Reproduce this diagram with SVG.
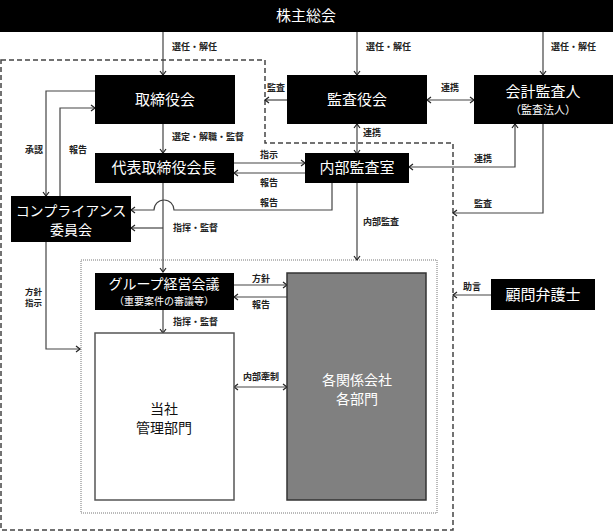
<svg xmlns="http://www.w3.org/2000/svg" width="613" height="531" viewBox="0 0 613 531">
<style>
.box{fill:#000}
.bt{fill:#fff;font-family:"Noto Sans CJK JP","Noto Sans",sans-serif;font-size:15px;text-anchor:middle}
.bm{fill:#fff;font-family:"Noto Sans CJK JP","Noto Sans",sans-serif;font-size:14px;text-anchor:middle}
.bs{fill:#fff;font-family:"Noto Sans CJK JP","Noto Sans",sans-serif;font-size:11px;text-anchor:middle}
.lb{fill:#222;font-family:"Noto Sans CJK JP","Noto Sans",sans-serif;font-size:9px;font-weight:bold}
.ln{fill:none;stroke:#444;stroke-width:1.2}
</style>
<defs>
<marker id="ah" viewBox="0 0 8 8" refX="7" refY="4" markerWidth="8" markerHeight="8" markerUnits="userSpaceOnUse" orient="auto-start-reverse">
<path d="M3,1 L7,4 L3,7" fill="none" stroke="#222" stroke-width="1.2"/>
</marker>
</defs>
<rect width="613" height="531" fill="#fff"/>
<!-- boundaries -->
<path d="M1,60 H265 V143 H453 V530 H1 Z" fill="none" stroke="#444" stroke-width="1.5" stroke-dasharray="5,3"/>
<rect x="81" y="260" width="356" height="253" fill="none" stroke="#777" stroke-width="1" stroke-dasharray="1,1"/>

<g id="connectors">
<path class="ln" d="M163,32 V75" marker-end="url(#ah)"/>
<path class="ln" d="M357,32 V75" marker-end="url(#ah)"/>
<path class="ln" d="M543,32 V75" marker-end="url(#ah)"/>
<path class="ln" d="M287,100 H265" marker-end="url(#ah)"/>
<path class="ln" d="M427,100 H474" marker-start="url(#ah)" marker-end="url(#ah)"/>
<path class="ln" d="M357,124 V154" marker-start="url(#ah)" marker-end="url(#ah)"/>
<path class="ln" d="M515,124 V167 H409" marker-start="url(#ah)" marker-end="url(#ah)"/>
<path class="ln" d="M543,124 V213 H453" marker-end="url(#ah)"/>
<path class="ln" d="M163,124 V153" marker-end="url(#ah)"/>
<path class="ln" d="M234,163 H305" marker-end="url(#ah)"/>
<path class="ln" d="M305,173 H234" marker-end="url(#ah)"/>
<path class="ln" d="M332,183 V210 H174 A10,10 0 0 0 154,210 H131" marker-end="url(#ah)"/>
<path class="ln" d="M357,183 V260" marker-end="url(#ah)"/>
<path class="ln" d="M163,183 V272" marker-end="url(#ah)"/>
<path class="ln" d="M163,228 H131" marker-end="url(#ah)"/>
<path class="ln" d="M95,91 H46 V196" marker-end="url(#ah)"/>
<path class="ln" d="M60,196 V108 H95" marker-end="url(#ah)"/>
<path class="ln" d="M46,241 V349 H80" marker-end="url(#ah)"/>
<path class="ln" d="M234,285 H287" marker-end="url(#ah)"/>
<path class="ln" d="M287,297 H234" marker-end="url(#ah)"/>
<path class="ln" d="M163,310 V333" marker-end="url(#ah)"/>
<path class="ln" d="M234,387 H287" marker-start="url(#ah)" marker-end="url(#ah)"/>
<path class="ln" d="M491,295 H453" marker-end="url(#ah)"/>
</g>

<g id="labels">
<text class="lb" x="172" y="50">選任・解任</text>
<text class="lb" x="366" y="50">選任・解任</text>
<text class="lb" x="551" y="50">選任・解任</text>
<text class="lb" x="267" y="91">監査</text>
<text class="lb" x="441" y="91">連携</text>
<text class="lb" x="363" y="136">連携</text>
<text class="lb" x="172" y="140">選定・解職・監督</text>
<text class="lb" x="25" y="153">承認</text>
<text class="lb" x="69" y="153">報告</text>
<text class="lb" x="260" y="158">指示</text>
<text class="lb" x="260" y="186">報告</text>
<text class="lb" x="260" y="206">報告</text>
<text class="lb" x="173" y="231">指揮・監督</text>
<text class="lb" x="474" y="162">連携</text>
<text class="lb" x="474" y="207">監査</text>
<text class="lb" x="363" y="225">内部監査</text>
<text class="lb" x="25" y="295" style="font-size:8.5px">方針</text>
<text class="lb" x="25" y="306" style="font-size:8.5px">指示</text>
<text class="lb" x="252" y="282">方針</text>
<text class="lb" x="252" y="308">報告</text>
<text class="lb" x="173" y="325">指揮・監督</text>
<text class="lb" x="243" y="380">内部牽制</text>
<text class="lb" x="463" y="290">助言</text>
</g>

<g id="shareholders">
<rect class="box" x="0" y="0" width="613" height="32"/>
<text class="bt" x="306" y="21">株主総会</text>
</g>
<g id="board">
<rect class="box" x="95" y="75" width="140" height="49"/>
<text class="bt" x="165" y="105">取締役会</text>
</g>
<g id="auditboard">
<rect class="box" x="287" y="75" width="140" height="49"/>
<text class="bt" x="357" y="105">監査役会</text>
</g>
<g id="accountingauditor">
<rect class="box" x="474" y="75" width="139" height="49"/>
<text class="bt" x="543" y="97">会計監査人</text>
<text class="bs" x="543" y="114">（監査法人）</text>
</g>
<g id="chairman">
<rect class="box" x="95" y="153" width="139" height="30"/>
<text class="bt" x="164" y="173">代表取締役会長</text>
</g>
<g id="internalaudit">
<rect class="box" x="305" y="153" width="104" height="30"/>
<text class="bt" x="357" y="173">内部監査室</text>
</g>
<g id="compliance">
<rect class="box" x="11" y="196" width="120" height="46"/>
<text class="bm" x="71" y="216">コンプライアンス</text>
<text class="bm" x="71" y="235">委員会</text>
</g>
<g id="groupmeeting">
<rect class="box" x="95" y="273" width="139" height="37"/>
<text class="bm" x="164" y="289">グループ経営会議</text>
<text class="bs" x="164" y="305" style="font-size:10px">（重要案件の審議等）</text>
</g>
<g id="management">
<rect x="95" y="333" width="139" height="167" fill="#fff" stroke="#555" stroke-width="1.5"/>
<text class="bm" x="164" y="414" style="fill:#111">当社</text>
<text class="bm" x="164" y="433" style="fill:#111">管理部門</text>
</g>
<g id="affiliates">
<rect x="287" y="273" width="139" height="227" fill="#808080" stroke="#333" stroke-width="1.5"/>
<text class="bm" x="357" y="385">各関係会社</text>
<text class="bm" x="357" y="404">各部門</text>
</g>
<g id="lawyer">
<rect class="box" x="491" y="279" width="104" height="31"/>
<text class="bt" x="543" y="300">顧問弁護士</text>
</g>
</svg>
